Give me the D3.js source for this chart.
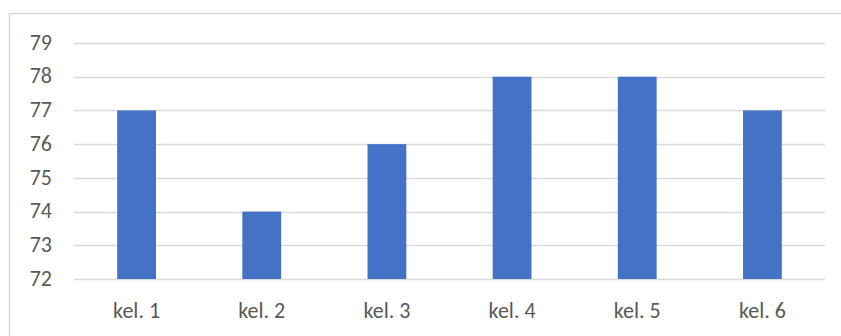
<!DOCTYPE html>
<html>
<head>
<meta charset="utf-8">
<script src="https://cdn.jsdelivr.net/npm/d3@7"></script>
<style>
  body { margin: 0; background: #fff; }
  text { font-family: Calibri, Carlito, "Liberation Sans", "Open Sans", sans-serif; }
</style>
</head>
<body>
<div id="chart"></div>
<script>
var categories = ["kel. 1", "kel. 2", "kel. 3", "kel. 4", "kel. 5", "kel. 6"];
var values = [77, 74, 76, 78, 78, 77];
var yTicks = [72, 73, 74, 75, 76, 77, 78, 79];

var width = 841,
    height = 336;

var svg = d3.select("#chart")
    .append("svg")
    .attr("width", width)
    .attr("height", height);

// chart area frame
svg.append("rect")
    .attr("x", 9.5)
    .attr("y", 13.5)
    .attr("width", 850)
    .attr("height", 350)
    .attr("fill", "#fff")
    .attr("stroke", "#d9d9d9")
    .attr("stroke-width", 1.5);

var x = d3.scaleBand()
    .domain(categories)
    .range([74, 825])
    .paddingInner(0.69)
    .paddingOuter(0.345);

var y = d3.scaleLinear()
    .domain([72, 79])
    .range([279, 43]);

// gridlines
svg.append("g")
    .selectAll("line")
    .data(yTicks)
    .enter()
    .append("line")
    .attr("x1", 74)
    .attr("x2", 825)
    .attr("y1", function (d) { return Math.round(y(d)) + 0.5; })
    .attr("y2", function (d) { return Math.round(y(d)) + 0.5; })
    .attr("stroke", "#d9d9d9")
    .attr("stroke-width", 1.3);

// bars
svg.append("g")
    .selectAll("rect")
    .data(values)
    .enter()
    .append("rect")
    .attr("x", function (d, i) { return x(categories[i]); })
    .attr("y", function (d) { return y(d); })
    .attr("width", x.bandwidth())
    .attr("height", function (d) { return y(72) - y(d); })
    .attr("fill", "#4472c4");

// y axis labels
var yAxis = d3.axisLeft(y)
    .tickValues(yTicks)
    .tickFormat(d3.format("d"))
    .tickSize(0)
    .tickPadding(0);

svg.append("g")
    .attr("transform", "translate(52,0)")
    .call(yAxis)
    .call(function (g) { g.select(".domain").remove(); })
    .selectAll("text")
    .attr("dy", "0.28em")
    .attr("fill", "#595959")
    .style("font-size", "22px");

// x axis labels
var xAxis = d3.axisBottom(x)
    .tickSize(0)
    .tickPadding(0);

svg.append("g")
    .attr("transform", "translate(0,318)")
    .call(xAxis)
    .call(function (g) { g.select(".domain").remove(); })
    .selectAll("text")
    .attr("dy", "0")
    .attr("fill", "#595959")
    .style("font-size", "22px");
</script>
</body>
</html>
